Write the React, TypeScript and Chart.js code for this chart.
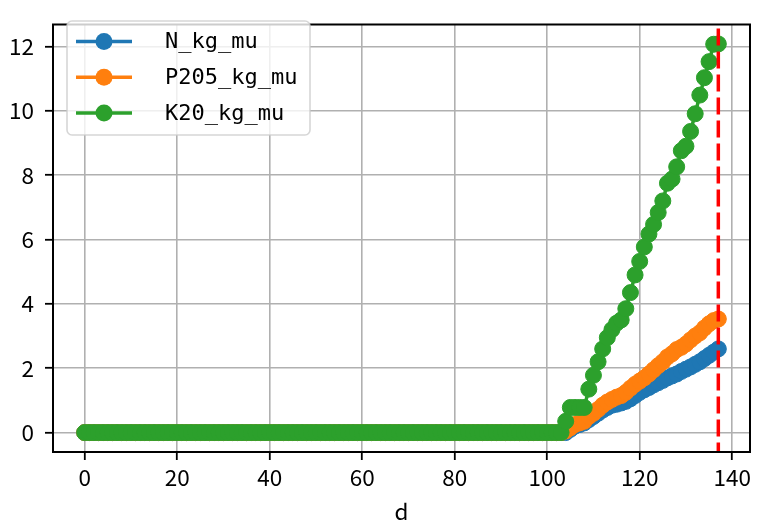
import React, { useEffect, useRef } from "react";
import { Chart, registerables } from "chart.js";

Chart.register(...registerables);

const days = [
  0, 1, 2, 3, 4, 5, 6, 7, 8, 9, 10, 11, 12, 13, 14, 15, 16, 17, 18, 19,
  20, 21, 22, 23, 24, 25, 26, 27, 28, 29, 30, 31, 32, 33, 34, 35, 36, 37, 38, 39,
  40, 41, 42, 43, 44, 45, 46, 47, 48, 49, 50, 51, 52, 53, 54, 55, 56, 57, 58, 59,
  60, 61, 62, 63, 64, 65, 66, 67, 68, 69, 70, 71, 72, 73, 74, 75, 76, 77, 78, 79,
  80, 81, 82, 83, 84, 85, 86, 87, 88, 89, 90, 91, 92, 93, 94, 95, 96, 97, 98, 99,
  100, 101, 102, 103, 104, 105, 106, 107, 108, 109, 110, 111, 112, 113, 114, 115, 116, 117, 118, 119,
  120, 121, 122, 123, 124, 125, 126, 127, 128, 129, 130, 131, 132, 133, 134, 135, 136, 137,
];

const nKgMu = [
  0, 0, 0, 0, 0, 0, 0, 0, 0, 0, 0, 0, 0, 0, 0, 0, 0, 0, 0, 0,
  0, 0, 0, 0, 0, 0, 0, 0, 0, 0, 0, 0, 0, 0, 0, 0, 0, 0, 0, 0,
  0, 0, 0, 0, 0, 0, 0, 0, 0, 0, 0, 0, 0, 0, 0, 0, 0, 0, 0, 0,
  0, 0, 0, 0, 0, 0, 0, 0, 0, 0, 0, 0, 0, 0, 0, 0, 0, 0, 0, 0,
  0, 0, 0, 0, 0, 0, 0, 0, 0, 0, 0, 0, 0, 0, 0, 0, 0, 0, 0, 0,
  0, 0, 0, 0, 0, 0.1, 0.2, 0.25, 0.3, 0.4, 0.5, 0.6, 0.7, 0.78, 0.85, 0.88, 0.92, 0.97, 1.05, 1.15,
  1.25, 1.33, 1.4, 1.48, 1.55, 1.62, 1.7, 1.76, 1.82, 1.9, 1.97, 2.04, 2.12, 2.2, 2.3, 2.4, 2.5, 2.6,
];

const p2o5KgMu = [
  0, 0, 0, 0, 0, 0, 0, 0, 0, 0, 0, 0, 0, 0, 0, 0, 0, 0, 0, 0,
  0, 0, 0, 0, 0, 0, 0, 0, 0, 0, 0, 0, 0, 0, 0, 0, 0, 0, 0, 0,
  0, 0, 0, 0, 0, 0, 0, 0, 0, 0, 0, 0, 0, 0, 0, 0, 0, 0, 0, 0,
  0, 0, 0, 0, 0, 0, 0, 0, 0, 0, 0, 0, 0, 0, 0, 0, 0, 0, 0, 0,
  0, 0, 0, 0, 0, 0, 0, 0, 0, 0, 0, 0, 0, 0, 0, 0, 0, 0, 0, 0,
  0, 0, 0, 0, 0.05, 0.15, 0.25, 0.3, 0.35, 0.5, 0.6, 0.72, 0.85, 0.95, 1.03, 1.1, 1.15, 1.25, 1.38, 1.5,
  1.6, 1.7, 1.82, 1.95, 2.08, 2.2, 2.35, 2.45, 2.58, 2.65, 2.75, 2.88, 3.0, 3.1, 3.25, 3.38, 3.48, 3.53,
];

const k2oKgMu = [
  0, 0, 0, 0, 0, 0, 0, 0, 0, 0, 0, 0, 0, 0, 0, 0, 0, 0, 0, 0,
  0, 0, 0, 0, 0, 0, 0, 0, 0, 0, 0, 0, 0, 0, 0, 0, 0, 0, 0, 0,
  0, 0, 0, 0, 0, 0, 0, 0, 0, 0, 0, 0, 0, 0, 0, 0, 0, 0, 0, 0,
  0, 0, 0, 0, 0, 0, 0, 0, 0, 0, 0, 0, 0, 0, 0, 0, 0, 0, 0, 0,
  0, 0, 0, 0, 0, 0, 0, 0, 0, 0, 0, 0, 0, 0, 0, 0, 0, 0, 0, 0,
  0, 0, 0, 0, 0.35, 0.78, 0.78, 0.78, 0.78, 1.35, 1.78, 2.2, 2.6, 2.95, 3.2, 3.4, 3.5, 3.85, 4.35, 4.9,
  5.32, 5.77, 6.17, 6.47, 6.84, 7.2, 7.75, 7.88, 8.26, 8.76, 8.9, 9.36, 9.91, 10.49, 11.03, 11.53, 12.07, 12.08,
];

const seriesLabels = ["N_kg_mu", "P205_kg_mu", "K20_kg_mu"];
const seriesColors = ["#1f77b4", "#ff7f0e", "#2ca02c"];
const xTicks = [0, 20, 40, 60, 80, 100, 120, 140];
const yTicks = [0, 2, 4, 6, 8, 10, 12];
const markerDay = 137;
const xTitle = "d";

const FONT = "'Noto Sans CJK JP', 'Noto Sans', sans-serif";
const LEGEND_FONT = "'DejaVu Sans Mono', monospace";

const framePlugin = {
  id: "framePlugin",
  afterDatasetsDraw(chart: any) {
    const { ctx, chartArea, scales } = chart;
    const x = scales.x.getPixelForValue(markerDay);
    ctx.save();
    ctx.strokeStyle = "#ff0000";
    ctx.lineWidth = 3.5;
    ctx.setLineDash([17, 6]);
    ctx.beginPath();
    ctx.moveTo(x, chartArea.top + 4);
    ctx.lineTo(x, chartArea.bottom);
    ctx.stroke();
    ctx.restore();
  },
  afterDraw(chart: any) {
    const { ctx, chartArea } = chart;
    ctx.save();
    ctx.strokeStyle = "#000";
    ctx.lineWidth = 2;
    ctx.strokeRect(chartArea.left, chartArea.top, chartArea.right - chartArea.left, chartArea.bottom - chartArea.top);

    // legend
    const lx = 67, ly = 21, lw = 243, lh = 114, r = 5;
    ctx.beginPath();
    ctx.moveTo(lx + r, ly);
    ctx.lineTo(lx + lw - r, ly);
    ctx.arcTo(lx + lw, ly, lx + lw, ly + r, r);
    ctx.lineTo(lx + lw, ly + lh - r);
    ctx.arcTo(lx + lw, ly + lh, lx + lw - r, ly + lh, r);
    ctx.lineTo(lx + r, ly + lh);
    ctx.arcTo(lx, ly + lh, lx, ly + lh - r, r);
    ctx.lineTo(lx, ly + r);
    ctx.arcTo(lx, ly, lx + r, ly, r);
    ctx.closePath();
    ctx.fillStyle = "rgba(255,255,255,0.8)";
    ctx.fill();
    ctx.strokeStyle = "rgba(204,204,204,0.8)";
    ctx.lineWidth = 1.6;
    ctx.stroke();

    chart.data.datasets.forEach((ds: any, i: number) => {
      const y = 41.5 + i * 35.8;
      ctx.strokeStyle = ds.borderColor;
      ctx.lineWidth = 3.5;
      ctx.beginPath();
      ctx.moveTo(76, y);
      ctx.lineTo(132, y);
      ctx.stroke();
      ctx.fillStyle = ds.backgroundColor;
      ctx.beginPath();
      ctx.arc(104, y, 8.5, 0, Math.PI * 2);
      ctx.fill();
      ctx.fillStyle = "#000";
      ctx.font = `22px ${LEGEND_FONT}`;
      ctx.textBaseline = "middle";
      ctx.textAlign = "left";
      ctx.fillText(ds.label, 165, y + 1);
    });
    ctx.restore();
  },
};

export default function App() {
  const ref = useRef<HTMLCanvasElement | null>(null);

  useEffect(() => {
    document.body.style.margin = "0";
    const canvas = ref.current;
    if (!canvas) return;
    const values = [nKgMu, p2o5KgMu, k2oKgMu];
    const chart = new Chart(canvas, {
      type: "line",
      data: {
        datasets: values.map((vals, i) => ({
          label: seriesLabels[i],
          data: days.map((d, j) => ({ x: d, y: vals[j] })),
          borderColor: seriesColors[i],
          backgroundColor: seriesColors[i],
          pointBackgroundColor: seriesColors[i],
          pointBorderColor: seriesColors[i],
          pointRadius: 8,
          pointBorderWidth: 1,
          pointHoverRadius: 8,
          borderWidth: 3.5,
          tension: 0,
          order: 2 - i,
          clip: false as any,
        })),
      },
      options: {
        animation: false,
        responsive: false,
        maintainAspectRatio: false,
        events: [],
        layout: { padding: { top: 7, right: 1, left: 0, bottom: 0 } },
        plugins: {
          legend: { display: false },
          tooltip: { enabled: false },
        },
        scales: {
          x: {
            type: "linear",
            min: -6.85,
            max: 143.85,
            afterBuildTicks: (scale: any) => {
              scale.ticks = xTicks.map((v) => ({ value: v }));
            },
            afterFit: (scale: any) => {
              scale.height = 71;
              scale.paddingLeft = 0;
              scale.paddingRight = 0;
            },
            grid: {
              color: "#b0b0b0",
              lineWidth: 1.6,
              tickColor: "#000",
              tickLength: 8,
              tickWidth: 1.8,
            },
            border: { display: false },
            ticks: {
              color: "#000",
              font: { family: FONT, size: 22.5 },
              padding: 4,
              maxRotation: 0,
              callback: (v: any) => String(v),
            },
            title: {
              display: true,
              text: xTitle,
              color: "#000",
              font: { family: FONT, size: 22.5 },
              padding: { top: 0, bottom: -2 },
            },
          },
          y: {
            type: "linear",
            min: -0.604,
            max: 12.684,
            afterBuildTicks: (scale: any) => {
              scale.ticks = yTicks.map((v) => ({ value: v }));
            },
            afterFit: (scale: any) => {
              scale.width = 53;
            },
            grid: {
              color: "#b0b0b0",
              lineWidth: 1.6,
              tickColor: "#000",
              tickLength: 8,
              tickWidth: 1.8,
            },
            border: { display: false },
            ticks: {
              color: "#000",
              font: { family: FONT, size: 22.5 },
              padding: 11,
              callback: (v: any) => String(v),
            },
          },
        },
      },
      plugins: [framePlugin],
    });
    return () => chart.destroy();
  }, []);

  return (
    <div style={{ position: "fixed", left: 0, top: 0, width: 759, height: 523 }}>
      <canvas ref={ref} width={759} height={523} style={{ width: 759, height: 523 }} />
    </div>
  );
}
